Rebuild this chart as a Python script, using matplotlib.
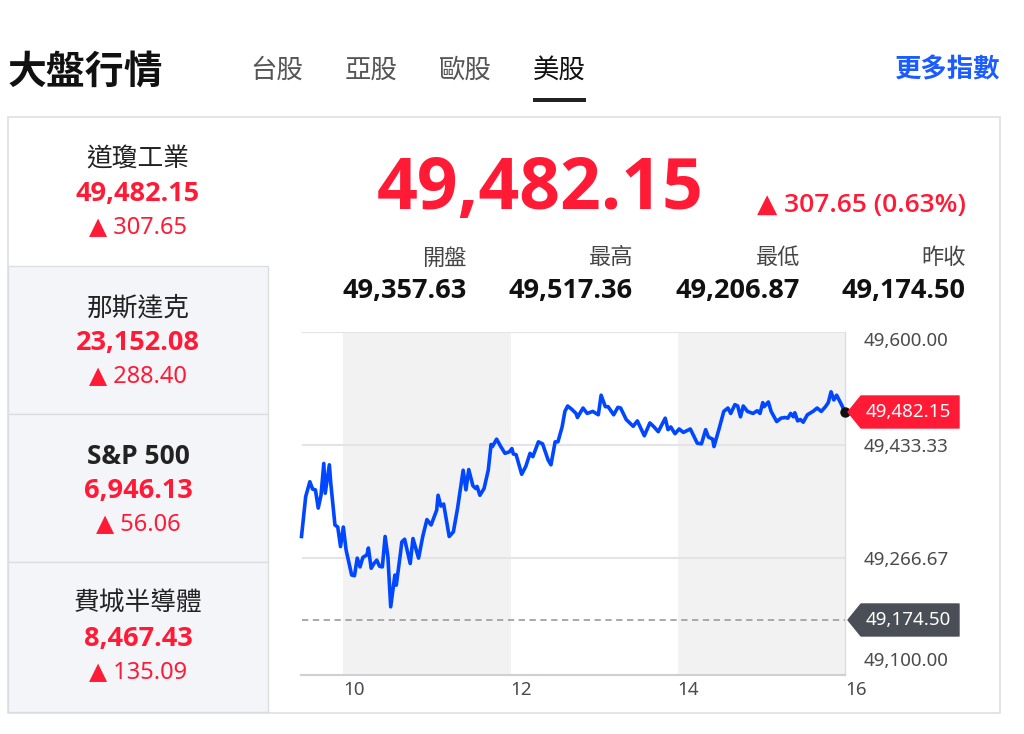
import matplotlib
matplotlib.use("Agg")
import matplotlib.pyplot as plt
import matplotlib.transforms as mtransforms
from matplotlib.patches import Rectangle, Polygon

# ---------------- data ----------------
page_title = "大盤行情"
tabs = ["台股", "亞股", "歐股", "美股"]
active_tab = "美股"
more_link = "更多指數"

index_names = ["道瓊工業", "那斯達克", "S&P 500", "費城半導體"]
index_values = [49482.15, 23152.08, 6946.13, 8467.43]
index_changes = [307.65, 288.40, 56.06, 135.09]

main_value = 49482.15
main_change = 307.65
main_pct = 0.63

stat_labels = ["開盤", "最高", "最低", "昨收"]
stat_values = [49357.63, 49517.36, 49206.87, 49174.50]
prev_close = 49174.50

# minutes after 09:30
minutes = [0, 3, 6, 8, 10, 12, 14, 16, 17, 20, 21, 24, 26, 28, 30, 32, 36, 38, 40, 42,
           44, 47, 48, 50, 52, 54, 56, 58, 60, 62, 64, 67, 68, 71, 72, 74, 78, 80, 84, 87,
           90, 93, 97, 98, 100, 102, 106, 109, 112, 116, 118, 120, 123, 125, 126, 128, 131, 134, 136, 137,
           140, 143, 146, 149, 151, 152, 154, 158, 161, 164, 166, 170, 173, 177, 179, 182, 184, 187, 189, 191,
           194, 197, 198, 202, 205, 209, 213, 215, 218, 220, 224, 227, 229, 233, 236, 238, 241, 246, 250, 253,
           256, 261, 263, 265, 268, 271, 274, 279, 284, 287, 290, 292, 295, 296, 300, 303, 306, 308, 311, 313,
           315, 317, 320, 324, 327, 329, 331, 332, 335, 337, 341, 344, 347, 349, 351, 353, 354, 356, 358, 360,
           363, 367, 370, 373, 376, 378, 380, 382, 384, 387, 390]
prices = [49298, 49357, 49379, 49368, 49367, 49340, 49359, 49406, 49362, 49404,
          49377, 49315, 49312, 49283, 49312, 49278, 49241, 49240, 49266, 49253,
          49267, 49271, 49281, 49251, 49258, 49263, 49254, 49253, 49298, 49268,
          49194, 49241, 49226, 49273, 49290, 49294, 49258, 49295, 49266, 49298,
          49323, 49315, 49337, 49359, 49343, 49346, 49298, 49305, 49340, 49396,
          49367, 49397, 49373, 49369, 49372, 49359, 49369, 49396, 49434, 49431,
          49442, 49431, 49421, 49423, 49428, 49420, 49419, 49390, 49402, 49421,
          49416, 49438, 49435, 49411, 49404, 49438, 49438, 49460, 49483, 49491,
          49486, 49480, 49474, 49488, 49480, 49483, 49478, 49507, 49490, 49490,
          49478, 49489, 49488, 49471, 49465, 49461, 49469, 49447, 49466, 49460,
          49453, 49473, 49456, 49460, 49450, 49457, 49452, 49457, 49436, 49435,
          49456, 49445, 49442, 49431, 49460, 49483, 49488, 49480, 49493, 49491,
          49475, 49491, 49483, 49480, 49484, 49480, 49496, 49490, 49497, 49483,
          49468, 49473, 49474, 49473, 49480, 49475, 49481, 49469, 49471, 49467,
          49478, 49483, 49488, 49483, 49490, 49496, 49512, 49500, 49507, 49495,
          49482.15]

y_ticks = [49100.00, 49266.67, 49433.33, 49600.00]
x_ticks = [10, 12, 14, 16]
shaded_hours = [(10, 12), (14, 16)]

# ---------------- style ----------------
RED = "#ff1a36"
BLUE_LINE = "#0047ff"
LINK_BLUE = "#1a5cff"
GRAY_TXT = "#4a4a4f"
CJK = ["Noto Sans CJK TC", "DejaVu Sans"]
NUM = ["Open Sans", "DejaVu Sans"]
NUMR = ["Noto Sans", "DejaVu Sans"]


def fmt(v):
    return f"{v:,.2f}"


W, H = 1024, 734
fig = plt.figure(figsize=(W / 100, H / 100), dpi=100)
fig.patch.set_facecolor("white")

bg = fig.add_axes([0, 0, 1, 1], zorder=0)
bg.set_xlim(0, W)
bg.set_ylim(H, 0)
bg.axis("off")

# header
bg.text(8, 72, page_title, fontsize=28, fontweight="bold", color="#111",
        family=CJK, ha="left", va="center")
tab_x = [250, 345, 439, 533]
for t, x in zip(tabs, tab_x):
    c = "#111" if t == active_tab else "#555"
    bg.text(x, 70, t, fontsize=19, color=c, family=CJK, ha="left", va="center",
            fontweight="medium")
    if t == active_tab:
        bg.add_patch(Rectangle((x, 98), 53, 4, color="#222", lw=0))
bg.text(1000, 70, more_link, fontsize=19, color=LINK_BLUE, family=CJK,
        ha="right", va="center", fontweight="bold")

# card frame
bg.add_patch(Rectangle((8, 117), 992, 596, fill=False, ec="#dfe0e5", lw=1.2))

# left panel
cells = [(117, 266), (266, 414), (414, 562), (562, 712)]
for i, (top, bot) in enumerate(cells):
    if i > 0:
        bg.add_patch(Rectangle((8, top), 260, bot - top, fc="#f4f5f9",
                               ec="#dcdde3", lw=1.0))
    is_latin = index_names[i].startswith("S&P")
    bg.text(138, top + 42, index_names[i], fontsize=18.5 if not is_latin else 19,
            color="#222", family=NUM if is_latin else CJK, ha="center", va="center",
            fontweight="bold" if is_latin else "medium")
    bg.text(138, top + 77, fmt(index_values[i]), fontsize=19.5, color=RED,
            family=NUM, ha="center", va="center", fontweight="bold")
    bg.text(138, top + 110, "▲ " + fmt(index_changes[i]), fontsize=17,
            color=RED, family=NUMR, ha="center", va="center")

# main quote
bg.text(540, 190, fmt(main_value), fontsize=51.5, color=RED, family=NUM,
        ha="center", va="center", fontweight="bold")
bg.text(966, 206, f"▲ {fmt(main_change)} ({main_pct:.2f}%)", fontsize=19,
        color=RED, family=NUM, ha="right", va="center", fontweight="semibold")

stat_right = [467, 633, 800, 966]
for lab, val, xr in zip(stat_labels, stat_values, stat_right):
    bg.text(xr, 258, lab, fontsize=16, color="#444", family=CJK,
            ha="right", va="center")
    bg.text(xr, 291, fmt(val), fontsize=19.5, color="#111", family=NUM,
            ha="right", va="center", fontweight="bold")

# ---------------- chart ----------------
L, R, T, B = 301.5, 845, 332.3, 675
ax = fig.add_axes([L / W, 1 - B / H, (R - L) / W, (B - T) / H], zorder=2)
ax.patch.set_alpha(0)
ax.set_xlim(9.5, 16)
ax.set_ylim(49600 - (B - T) * 1.479, 49600)

for a, b in shaded_hours:
    ax.axvspan(a, b, color="#f2f2f2", lw=0, zorder=0)
for yv in y_ticks[1:]:
    ax.axhline(yv, color="#e4e4e6", lw=1.5, zorder=1)
ax.axhline(prev_close, color="#a3a3a3", lw=1.3, dashes=(3.5, 2.5), zorder=1)

hours = [9.5 + m / 60 for m in minutes]
ax.plot(hours, prices, color=BLUE_LINE, lw=2.6, zorder=3,
        solid_joinstyle="round", clip_on=False)
ax.plot(hours[-1], prices[-1], "o", color="#111", ms=6.5, zorder=4, clip_on=False)

for s in ["left", "top"]:
    ax.spines[s].set_visible(False)
ax.spines["bottom"].set_color("#cfd0d6")
ax.spines["bottom"].set_linewidth(1.5)
ax.spines["right"].set_color("#dcdde3")
ax.spines["right"].set_linewidth(1.0)

ax.set_xticks(x_ticks)
ax.set_xticklabels([str(x) for x in x_ticks], family=NUMR, fontsize=13.5, color=GRAY_TXT)
for lab in ax.get_xticklabels():
    lab.set_ha("left")
ax.tick_params(axis="x", length=0, pad=4)

ax.yaxis.tick_right()
ax.set_yticks(y_ticks)
ax.set_yticklabels([fmt(v) for v in y_ticks], family=NUMR, fontsize=13.5, color=GRAY_TXT)
ax.tick_params(axis="y", length=0, pad=13.5)
ylabels = ax.get_yticklabels()
ylabels[0].set_va("bottom")
ylabels[-1].set_va("top")

# price tags anchored to data values
fig.canvas.draw()
ident = mtransforms.IdentityTransform()
x_edge = ax.transAxes.transform((1, 0))[0]
for val, col in [(main_value, RED), (prev_close, "#4a4f57")]:
    yd = ax.transData.transform((16, val))[1]
    tip = x_edge + 3
    bl = tip + 13
    br = tip + 111
    hh = 16
    poly = Polygon([(tip, yd), (bl, yd + hh), (br, yd + hh), (br, yd - hh), (bl, yd - hh)],
                   closed=True, fc=col, ec=col, lw=1, joinstyle="round",
                   transform=ident, zorder=5)
    fig.add_artist(poly)
    fig.text((bl + br) / 2 - 2, yd, fmt(val), transform=ident, color="white",
             fontsize=13.5, family=NUMR, ha="center", va="center", zorder=6)

fig.savefig("out.png", dpi=100, facecolor="white")
